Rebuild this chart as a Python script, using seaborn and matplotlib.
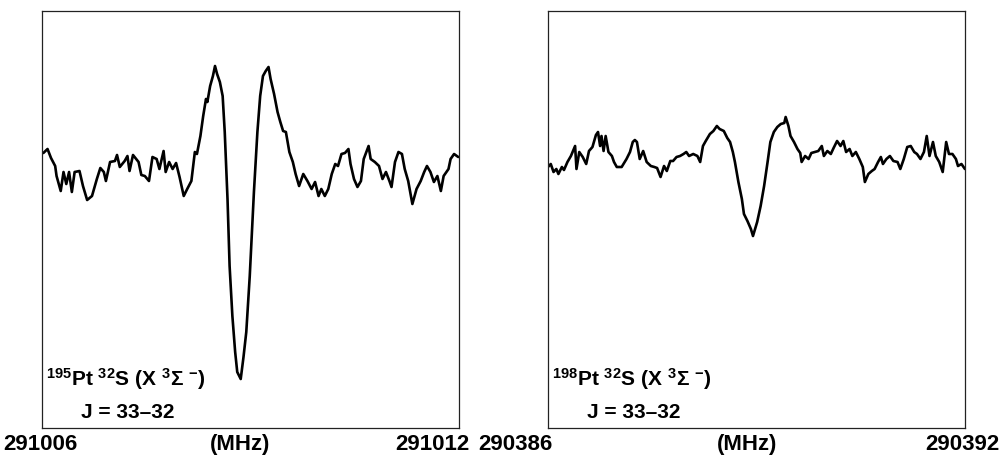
"""
Two PtS rotational lines (J = 33-32) for the 195 and 198 isotopologues,
redrawn with seaborn as black spectrum traces in framed panels.
"""

import numpy as np
import pandas as pd
import matplotlib
matplotlib.use("Agg")
import matplotlib.pyplot as plt
import seaborn as sns

# 195Pt32S panel: offset from the start frequency (MHz) and intensity (arb. units)
start_195 = 291006
df_195 = [
    0.02, 0.08, 0.13, 0.19, 0.21, 0.27, 0.31, 0.35, 0.39, 0.43,
    0.47, 0.54, 0.59, 0.65, 0.72, 0.79, 0.84, 0.89, 0.92, 0.98,
    1.05, 1.08, 1.12, 1.19, 1.23, 1.26, 1.31, 1.39, 1.43, 1.48,
    1.54, 1.59, 1.65, 1.69, 1.75, 1.78, 1.83, 1.88, 1.93, 1.98,
    2.04, 2.09, 2.15, 2.20, 2.23, 2.28, 2.32, 2.36, 2.38, 2.42,
    2.46, 2.49, 2.52, 2.56, 2.60, 2.63, 2.67, 2.70, 2.74, 2.78,
    2.81, 2.86, 2.90, 2.94, 2.99, 3.05, 3.10, 3.14, 3.18, 3.22,
    3.26, 3.29, 3.34, 3.39, 3.43, 3.47, 3.51, 3.56, 3.61, 3.65,
    3.70, 3.76, 3.82, 3.88, 3.93, 3.98, 4.02, 4.07, 4.12, 4.17,
    4.22, 4.26, 4.31, 4.36, 4.41, 4.44, 4.49, 4.54, 4.59, 4.63,
    4.70, 4.73, 4.79, 4.85, 4.90, 4.95, 5.00, 5.03, 5.08, 5.13,
    5.18, 5.22, 5.27, 5.33, 5.39, 5.45, 5.50, 5.54, 5.59, 5.64,
    5.69, 5.74, 5.78, 5.85, 5.88, 5.93, 5.99,
]
int_195 = [
    6, 10, 1, -7, -17, -32, -13, -25, -13, -33,
    -13, -12, -27, -41, -37, -20, -9, -13, -22, -3,
    -2, 4, -8, -2, 3, -12, 4, -3, -16, -17,
    -22, 2, 0, -10, 8, -13, -3, -10, -4, -18,
    -37, -30, -22, 7, 5, 23, 43, 60, 57, 73,
    83, 93, 85, 77, 63, 27, -40, -107, -157, -193,
    -213, -220, -198, -173, -117, -33, 27, 63, 83, 88,
    92, 80, 65, 47, 37, 28, 27, 7, -3, -15,
    -27, -15, -22, -30, -23, -37, -30, -37, -30, -15,
    -5, -7, 5, 6, 10, -5, -20, -28, -22, 0,
    13, 0, -3, -7, -20, -13, -22, -28, -3, 7,
    5, -10, -22, -45, -30, -22, -13, -7, -13, -23,
    -17, -32, -17, -10, 0, 5, 2,
]

# 198Pt32S panel
start_198 = 290386
df_198 = [
    0.00, 0.04, 0.08, 0.12, 0.15, 0.20, 0.23, 0.28, 0.33, 0.36,
    0.39, 0.41, 0.45, 0.50, 0.55, 0.59, 0.64, 0.69, 0.72, 0.75,
    0.77, 0.80, 0.83, 0.87, 0.92, 0.95, 0.99, 1.06, 1.13, 1.18,
    1.22, 1.25, 1.28, 1.32, 1.37, 1.42, 1.48, 1.53, 1.57, 1.62,
    1.67, 1.71, 1.76, 1.80, 1.85, 1.90, 1.95, 1.99, 2.03, 2.09,
    2.15, 2.19, 2.23, 2.27, 2.33, 2.38, 2.43, 2.47, 2.53, 2.58,
    2.62, 2.66, 2.69, 2.74, 2.79, 2.82, 2.87, 2.92, 2.95, 2.98,
    3.01, 3.06, 3.11, 3.16, 3.20, 3.25, 3.30, 3.35, 3.40, 3.42,
    3.46, 3.49, 3.54, 3.59, 3.63, 3.65, 3.70, 3.75, 3.79, 3.84,
    3.89, 3.94, 3.97, 4.02, 4.07, 4.11, 4.16, 4.21, 4.25, 4.29,
    4.34, 4.38, 4.43, 4.48, 4.53, 4.56, 4.61, 4.66, 4.70, 4.75,
    4.79, 4.82, 4.87, 4.92, 4.97, 5.03, 5.07, 5.12, 5.17, 5.22,
    5.27, 5.31, 5.36, 5.41, 5.45, 5.49, 5.54, 5.58, 5.63, 5.68,
    5.73, 5.77, 5.82, 5.87, 5.90, 5.95, 6.00,
]
int_198 = [
    -8, -5, -13, -10, -15, -8, -11, -3, 3, 8,
    13, -10, 7, 2, -5, 8, 12, 24, 27, 13,
    23, 8, 23, 7, 3, -3, -8, -8, 0, 7,
    17, 19, 17, 0, 8, -3, -7, -8, -9, -18,
    -7, -12, -2, -2, 2, 3, 5, 7, 3, 5,
    3, -3, 13, 18, 25, 28, 33, 30, 28, 21,
    17, 7, -3, -23, -40, -55, -62, -70, -77, -70,
    -63, -47, -27, -3, 17, 27, 32, 35, 36, 42,
    33, 23, 17, 10, 6, -3, 3, 0, 6, 7,
    8, 13, 3, 8, 5, 11, 18, 13, 18, 7,
    10, 3, 7, 0, -8, -23, -15, -12, -10, -3,
    2, -5, 0, 3, -2, -3, -10, 0, 12, 13,
    7, 5, 0, 7, 23, 3, 17, 3, -3, -13,
    17, 5, 5, 0, -7, -5, -10,
]

span_mhz = 6
labels_195 = ["291006", "(MHz)", "291012"]
labels_198 = ["290386", "(MHz)", "290392"]
species_195 = r"$^{195}$Pt $^{32}$S (X $^{3}\Sigma$ $^{-}$)"
species_198 = r"$^{198}$Pt $^{32}$S (X $^{3}\Sigma$ $^{-}$)"
transition = "J = 33\u201332"


def draw_panel(ax, start, offsets, values, species, freq_labels, label_x):
    data = pd.DataFrame({"freq": start + np.asarray(offsets), "intensity": values})
    sns.lineplot(data=data, x="freq", y="intensity", ax=ax, color="black",
                 lw=1.9, estimator=None, sort=False)
    ax.set_xlim(start, start + span_mhz)
    ax.set_ylim(-269, 148)
    ax.set_xticks([])
    ax.set_yticks([])
    ax.set_xlabel("")
    ax.set_ylabel("")
    for spine in ax.spines.values():
        spine.set_color("#222222")
        spine.set_linewidth(0.9)

    ax.text(0.01, 0.103, species, transform=ax.transAxes, fontsize=15,
            fontweight="bold", ha="left", va="baseline", color="black")
    ax.text(0.093, 0.026, transition, transform=ax.transAxes, fontsize=15,
            fontweight="bold", ha="left", va="baseline", color="black")

    aligns = ["left", "center", "right"]
    for text, x, ha in zip(freq_labels, label_x, aligns):
        ax.text(x, -0.037, text, transform=ax.transAxes, fontsize=16,
                fontweight="bold", ha=ha, va="center", color="black")


def main():
    sns.set_style("white")
    plt.rcParams["font.family"] = ["Liberation Sans", "DejaVu Sans"]
    plt.rcParams["mathtext.fontset"] = "custom"
    plt.rcParams["mathtext.rm"] = "Liberation Sans:bold"
    plt.rcParams["mathtext.it"] = "Liberation Sans:bold"
    plt.rcParams["mathtext.bf"] = "Liberation Sans:bold"
    plt.rcParams["mathtext.default"] = "regular"

    fig = plt.figure(figsize=(10.04, 4.56), dpi=100)
    ax1 = fig.add_axes([0.0418, 0.0592, 0.4153, 0.9145])
    ax2 = fig.add_axes([0.5458, 0.0592, 0.4153, 0.9145])

    draw_panel(ax1, start_195, df_195, int_195, species_195, labels_195,
               [-0.0935, 0.475, 1.026])
    draw_panel(ax2, start_198, df_198, int_198, species_198, labels_198,
               [-0.168, 0.477, 1.084])

    fig.savefig("out.png", dpi=100)


if __name__ == "__main__":
    main()
